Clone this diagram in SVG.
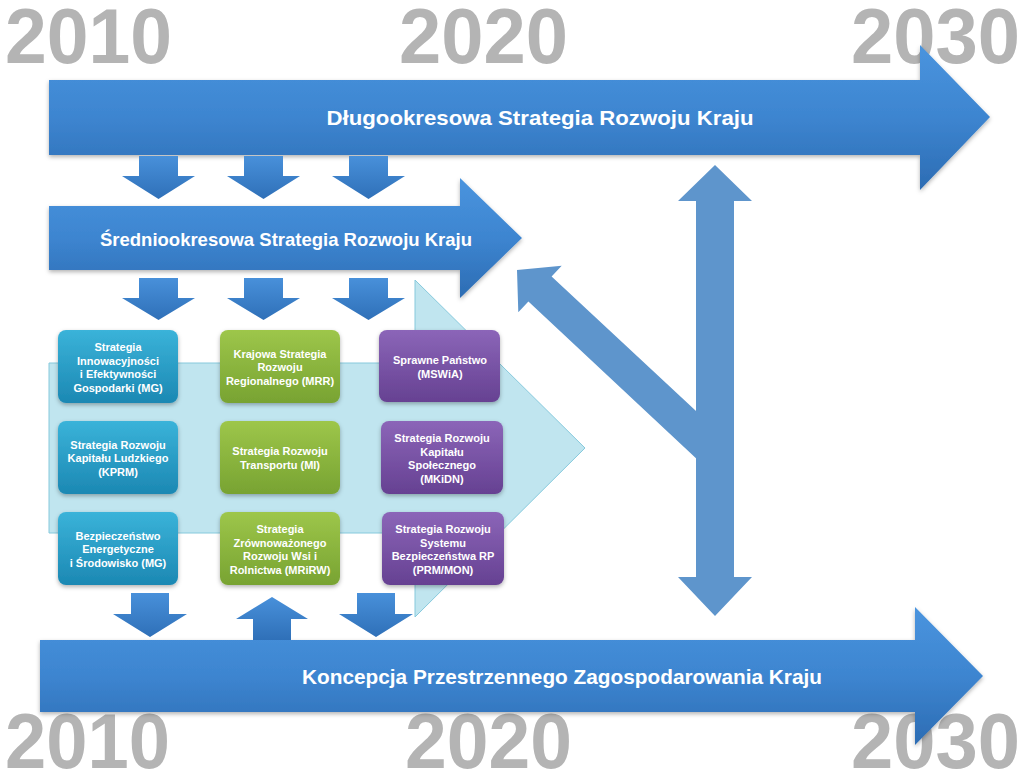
<svg xmlns="http://www.w3.org/2000/svg" width="1024" height="772" viewBox="0 0 1024 772">
<defs>
<linearGradient id="gBig" x1="0" y1="0" x2="0" y2="1">
<stop offset="0" stop-color="#4a94de"/>
<stop offset="0.5" stop-color="#3d85d0"/>
<stop offset="1" stop-color="#2c6cb3"/>
</linearGradient>
<linearGradient id="gSmall" x1="0" y1="0" x2="0" y2="1">
<stop offset="0" stop-color="#4890da"/>
<stop offset="1" stop-color="#2f70b8"/>
</linearGradient>
<linearGradient id="gBlue" x1="0" y1="0" x2="0" y2="1">
<stop offset="0" stop-color="#3ab3d9"/>
<stop offset="1" stop-color="#1c88b3"/>
</linearGradient>
<linearGradient id="gGreen" x1="0" y1="0" x2="0" y2="1">
<stop offset="0" stop-color="#9dc64a"/>
<stop offset="1" stop-color="#78a332"/>
</linearGradient>
<linearGradient id="gPurple" x1="0" y1="0" x2="0" y2="1">
<stop offset="0" stop-color="#8b65b8"/>
<stop offset="1" stop-color="#664192"/>
</linearGradient>
<filter id="sh" x="-10%" y="-10%" width="125%" height="130%">
<feDropShadow dx="0" dy="2" stdDeviation="2" flood-color="#000" flood-opacity="0.3"/>
</filter>
</defs>
<style>
.yr{font-family:"Liberation Sans",Arial,sans-serif;font-weight:bold;font-size:77px;fill:#b4b4b4}
.lbl{font-family:"Liberation Sans",Arial,sans-serif;font-weight:bold;fill:#ffffff;text-anchor:middle}
.nt{font-family:"Liberation Sans",Arial,sans-serif;font-weight:bold;font-size:11px;fill:#ffffff;text-anchor:middle}
.big{fill:url(#gBig);filter:url(#sh)}
.sm{fill:url(#gSmall)}
.vx{fill:#5e95cc}
.nb{fill:url(#gBlue);filter:url(#sh)}
.ng{fill:url(#gGreen);filter:url(#sh)}
.np{fill:url(#gPurple);filter:url(#sh)}
</style>

<g id="years">
<text class="yr" x="5" y="63" textLength="167" lengthAdjust="spacingAndGlyphs">2010</text>
<text class="yr" x="399" y="63" textLength="169" lengthAdjust="spacingAndGlyphs">2020</text>
<text class="yr" x="851" y="63" textLength="169" lengthAdjust="spacingAndGlyphs">2030</text>
<text class="yr" x="5" y="768" textLength="165" lengthAdjust="spacingAndGlyphs">2010</text>
<text class="yr" x="405" y="768" textLength="167" lengthAdjust="spacingAndGlyphs">2020</text>
<text class="yr" x="851" y="768" textLength="169" lengthAdjust="spacingAndGlyphs">2030</text>
</g>

<g id="background-arrow">
<polygon points="49,363 415,363 415,280 585,448 415,617 415,533 49,533" fill="#c0e5ef" stroke="#86c9dc" stroke-width="1"/>
</g>

<g id="dlugookresowa">
<polygon class="big" points="49,80 920,80 920,45 990,117 920,190 920,155 49,155"/>
<text class="lbl" x="540" y="125" font-size="21" textLength="427" lengthAdjust="spacingAndGlyphs">Długookresowa Strategia Rozwoju Kraju</text>
</g>

<g id="sredniookresowa">
<polygon class="big" points="49,206 460,206 460,178 522,238 460,298 460,270 49,270"/>
<text class="lbl" x="286" y="246" font-size="18.5" textLength="372" lengthAdjust="spacingAndGlyphs">Średniookresowa Strategia Rozwoju Kraju</text>
</g>

<g id="koncepcja">
<polygon class="big" points="40,640 915,640 915,607 983,676 915,745 915,712 40,712"/>
<text class="lbl" x="562" y="684" font-size="20.5" textLength="520" lengthAdjust="spacingAndGlyphs">Koncepcja Przestrzennego Zagospodarowania Kraju</text>
</g>

<g id="connectors">
<polygon class="sm" points="139,156 178,156 178,176 195,176 158.5,199 122,176 139,176"/>
<polygon class="sm" points="244,156 283,156 283,176 300,176 263.5,199 227,176 244,176"/>
<polygon class="sm" points="349,156 388,156 388,176 405,176 368.5,199 332,176 349,176"/>
<polygon class="sm" points="139,278 178,278 178,298 195,298 158.5,320 122,298 139,298"/>
<polygon class="sm" points="244,278 283,278 283,298 300,298 263.5,320 227,298 244,298"/>
<polygon class="sm" points="349,278 388,278 388,298 405,298 368.5,320 332,298 349,298"/>
<polygon class="sm" points="131,593 169,593 169,614 187,614 150,637 113,614 131,614"/>
<polygon class="sm" points="253,640 291,640 291,619 308,619 272,597 236,619 253,619"/>
<polygon class="sm" points="357,593 395,593 395,614 413,614 376,637 339,614 357,614"/>
<polygon class="vx" points="517,270 561.7,265.8 551.6,276.6 710,424 710,455 696,458.2 528.4,301.4 518.3,312.2"/>
<polygon class="vx" points="715,165 752,201 734,201 734,577 752,577 715,616 678,577 696,577 696,201 678,201"/>
</g>

<g id="node-mg-innowacyjnosc">
<rect class="nb" x="58" y="330" width="120" height="73" rx="8"/>
<text class="nt" x="118" y="351">Strategia</text>
<text class="nt" x="118" y="364.5">Innowacyjności</text>
<text class="nt" x="118" y="378">i Efektywności</text>
<text class="nt" x="118" y="391.5">Gospodarki (MG)</text>
</g>
<g id="node-kprm">
<rect class="nb" x="58" y="421" width="120" height="73" rx="8"/>
<text class="nt" x="118" y="448.5">Strategia Rozwoju</text>
<text class="nt" x="118" y="462">Kapitału Ludzkiego</text>
<text class="nt" x="118" y="475.5">(KPRM)</text>
</g>
<g id="node-mg-energia">
<rect class="nb" x="58" y="512" width="120" height="73" rx="8"/>
<text class="nt" x="118" y="539.5">Bezpieczeństwo</text>
<text class="nt" x="118" y="553">Energetyczne</text>
<text class="nt" x="118" y="566.5">i Środowisko (MG)</text>
</g>

<g id="node-mrr">
<rect class="ng" x="220" y="330" width="120" height="73" rx="8"/>
<text class="nt" x="280" y="357.5">Krajowa Strategia</text>
<text class="nt" x="280" y="371">Rozwoju</text>
<text class="nt" x="280" y="384.5">Regionalnego (MRR)</text>
</g>
<g id="node-mi">
<rect class="ng" x="220" y="421" width="120" height="73" rx="8"/>
<text class="nt" x="280" y="455">Strategia Rozwoju</text>
<text class="nt" x="280" y="468.5">Transportu (MI)</text>
</g>
<g id="node-mrirw">
<rect class="ng" x="220" y="512" width="120" height="73" rx="8"/>
<text class="nt" x="280" y="533">Strategia</text>
<text class="nt" x="280" y="546.5">Zrównoważonego</text>
<text class="nt" x="280" y="560">Rozwoju Wsi i</text>
<text class="nt" x="280" y="573.5">Rolnictwa (MRiRW)</text>
</g>

<g id="node-mswia">
<rect class="np" x="379" y="330" width="121" height="72" rx="8"/>
<text class="nt" x="440" y="364">Sprawne Państwo</text>
<text class="nt" x="440" y="377.5">(MSWiA)</text>
</g>
<g id="node-mkidn">
<rect class="np" x="381" y="421" width="122" height="73" rx="8"/>
<text class="nt" x="442" y="442">Strategia Rozwoju</text>
<text class="nt" x="442" y="455.5">Kapitału</text>
<text class="nt" x="442" y="469">Społecznego</text>
<text class="nt" x="442" y="482.5">(MKiDN)</text>
</g>
<g id="node-prm-mon">
<rect class="np" x="382" y="512" width="122" height="73" rx="8"/>
<text class="nt" x="443" y="533">Strategia Rozwoju</text>
<text class="nt" x="443" y="546.5">Systemu</text>
<text class="nt" x="443" y="560">Bezpieczeństwa RP</text>
<text class="nt" x="443" y="573.5">(PRM/MON)</text>
</g>
</svg>
